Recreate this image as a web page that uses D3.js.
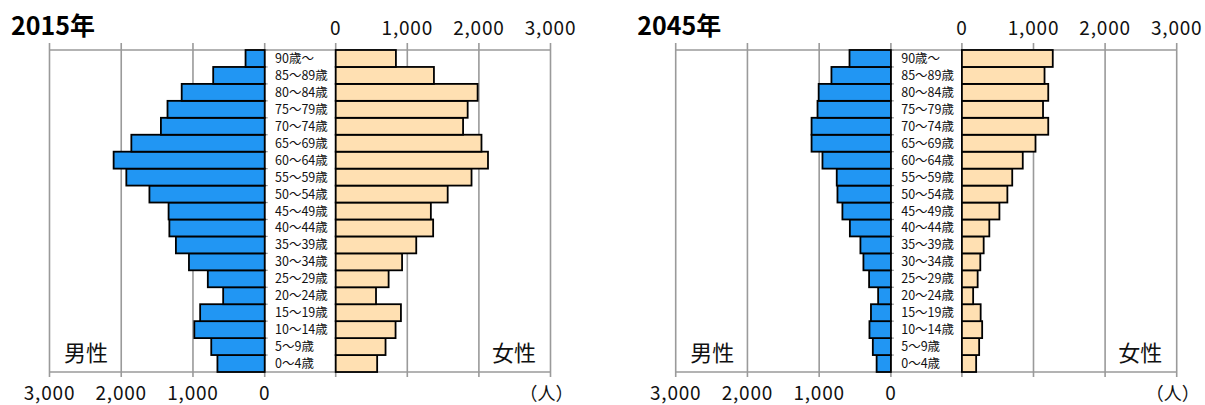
<!DOCTYPE html>
<html>
<head>
<meta charset="utf-8">
<script src="https://cdn.jsdelivr.net/npm/d3@7"></script>
<style>
  html, body { margin: 0; padding: 0; background: #fff; }
  svg { display: block; font-family: "Noto Sans CJK JP", "Noto Sans", sans-serif; }
</style>
</head>
<body>
<svg id="chart" width="1205" height="405"></svg>
<script>
const ages = ["0～4歳","5～9歳","10～14歳","15～19歳","20～24歳","25～29歳","30～34歳","35～39歳","40～44歳","45～49歳","50～54歳","55～59歳","60～64歳","65～69歳","70～74歳","75～79歳","80～84歳","85～89歳","90歳～"];
const male2015   = [659, 745, 981, 900, 579, 793, 1056, 1238, 1329, 1340, 1607, 1929, 2106, 1859, 1447, 1355, 1157, 718, 267];
const female2015 = [579, 696, 836, 911, 563, 739, 927, 1125, 1361, 1329, 1564, 1897, 2127, 2036, 1779, 1843, 1982, 1372, 841];
const male2045   = [199, 252, 299, 278, 178, 304, 383, 425, 572, 676, 745, 755, 954, 1106, 1106, 1023, 1007, 829, 577];
const female2045 = [199, 241, 283, 262, 157, 220, 257, 304, 383, 524, 635, 703, 850, 1028, 1206, 1133, 1206, 1154, 1269];
const years = ["2015年", "2045年"];
const tickValues = [0, 1000, 2000, 3000];
const sexLabels = ["男性", "女性"];
const unitLabel = "（人）";

const svg = d3.select("#chart");
const fmt = d3.format(",");

function panel(dx, title, male, female) {
  const g = svg.append("g").attr("transform", `translate(${dx},0)`);
  const xm = d3.scaleLinear().domain([0, 3000]).range([264.7, 49.5]);
  const xf = d3.scaleLinear().domain([0, 3000]).range([335.7, 550.5]);
  const y = d3.scaleBand().domain(ages.slice().reverse()).range([50, 372]).padding(0);
  const top = 50, bottom = 372;
  const grid = "#9a9a9a";

  // gridlines + tick extensions
  [xm, xf].forEach(sc => {
    tickValues.forEach(t => {
      g.append("line").attr("x1", sc(t)).attr("x2", sc(t))
        .attr("y1", top - 7).attr("y2", bottom + 5)
        .attr("stroke", grid).attr("stroke-width", 1.6);
    });
  });
  g.append("line").attr("x1", xm(3000)).attr("x2", xf(3000)).attr("y1", top).attr("y2", top)
    .attr("stroke", grid).attr("stroke-width", 1.6);
  g.append("line").attr("x1", xm(3000)).attr("x2", xf(3000)).attr("y1", bottom).attr("y2", bottom)
    .attr("stroke", grid).attr("stroke-width", 1.6);

  // category ticks at male zero line
  ages.forEach(a => {
    g.append("line").attr("x1", xm(0)).attr("x2", xm(0) + 3)
      .attr("y1", y(a)).attr("y2", y(a)).attr("stroke", grid).attr("stroke-width", 1.2);
  });

  // bars
  g.selectAll(".m").data(ages.map((a, i) => ({a, v: male[i]}))).enter().append("rect")
    .attr("x", d => xm(d.v)).attr("width", d => xm(0) - xm(d.v))
    .attr("y", d => y(d.a)).attr("height", y.bandwidth())
    .attr("fill", "#2196f3").attr("stroke", "#000").attr("stroke-width", 1.8);
  g.selectAll(".f").data(ages.map((a, i) => ({a, v: female[i]}))).enter().append("rect")
    .attr("x", xf(0)).attr("width", d => xf(d.v) - xf(0))
    .attr("y", d => y(d.a)).attr("height", y.bandwidth())
    .attr("fill", "#ffe0b2").attr("stroke", "#000").attr("stroke-width", 1.8);

  // age labels
  ages.forEach(a => {
    g.append("text").attr("x", 275).attr("y", y(a) + y.bandwidth() / 2 + 4.5)
      .attr("font-size", 12.5).attr("fill", "#111").text(a);
  });

  // top tick labels (female)
  tickValues.forEach(t => {
    g.append("text").attr("x", xf(t)).attr("y", 35).attr("text-anchor", "middle")
      .attr("font-size", 19).attr("letter-spacing", 0.8).attr("fill", "#111").text(fmt(t));
  });
  // bottom tick labels (male)
  tickValues.forEach(t => {
    g.append("text").attr("x", xm(t)).attr("y", 400).attr("text-anchor", "middle")
      .attr("font-size", 19).attr("letter-spacing", 0.8).attr("fill", "#111").text(fmt(t));
  });
  g.append("text").attr("x", xf(3000) - 4).attr("y", 400).attr("text-anchor", "middle")
    .attr("font-size", 18).attr("fill", "#111").text(unitLabel);

  // sex labels
  g.append("text").attr("x", 86).attr("y", 361).attr("text-anchor", "middle")
    .attr("font-size", 22).attr("fill", "#111").text(sexLabels[0]);
  g.append("text").attr("x", 514).attr("y", 361).attr("text-anchor", "middle")
    .attr("font-size", 22).attr("fill", "#111").text(sexLabels[1]);

  // title
  g.append("text").attr("x", 11).attr("y", 35).attr("font-size", 25)
    .attr("font-weight", "bold").attr("fill", "#000").text(title);
}

panel(0, years[0], male2015, female2015);
panel(626.2, years[1], male2045, female2045);
</script>
</body>
</html>
